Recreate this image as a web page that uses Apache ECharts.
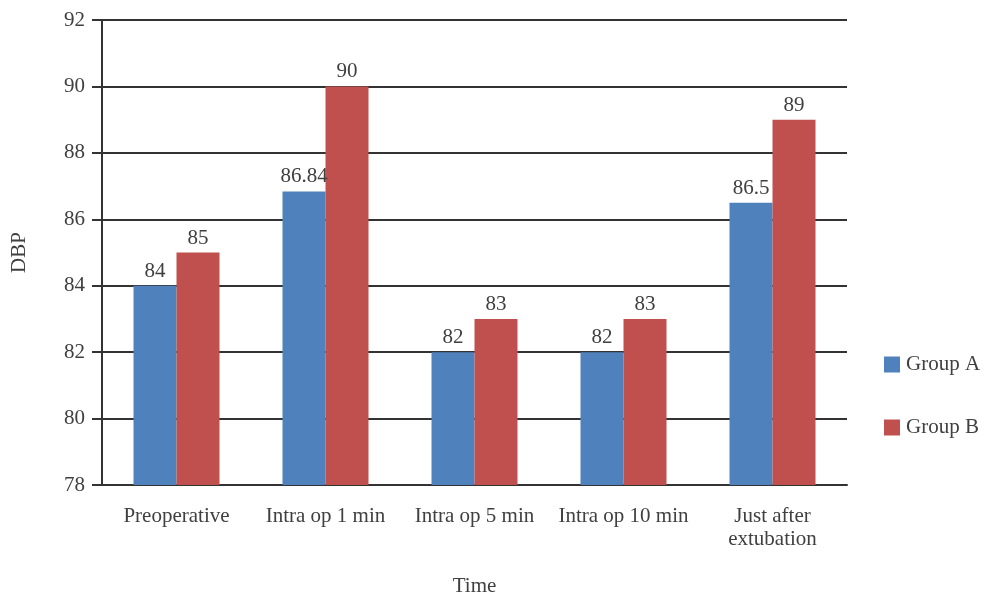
<!DOCTYPE html>
<html>
<head>
<meta charset="utf-8">
<script src="https://cdn.jsdelivr.net/npm/echarts@6/dist/echarts.min.js"></script>
<style>
  html, body { margin: 0; padding: 0; background: #fff; }
  #chart { width: 985px; height: 596px; }
</style>
</head>
<body>
<div id="chart"></div>
<script>
// Diastolic blood pressure by time point, two groups
const categories = ['Preoperative', 'Intra op 1 min', 'Intra op 5 min', 'Intra op 10 min', 'Just after\nextubation'];
const groupA = [84, 86.84, 82, 82, 86.5];
const groupB = [85, 90, 83, 83, 89];
const yTicks = { min: 78, max: 92, interval: 2 };

const FONT = 'Liberation Serif';
const TEXT = '#404040';
const SIZE = 21;

const chart = echarts.init(document.getElementById('chart'));

const labelStyle = {
  show: true,
  position: 'top',
  distance: 4,
  color: TEXT,
  fontFamily: FONT,
  fontSize: SIZE
};

chart.setOption({
  animation: false,
  textStyle: { fontFamily: FONT },
  grid: { left: 102, right: 138, top: 20, bottom: 111, outerBoundsMode: 'none', containLabel: false },
  legend: {
    orient: 'vertical',
    left: 879,
    top: 349,
    itemGap: 42,
    itemWidth: 16,
    itemHeight: 16,
    icon: 'rect',
    textStyle: { color: TEXT, fontFamily: FONT, fontSize: SIZE, padding: [0, 0, 0, 1] },
    data: ['Group A', 'Group B']
  },
  xAxis: {
    type: 'category',
    data: categories,
    name: 'Time',
    nameLocation: 'middle',
    nameGap: 91,
    nameTextStyle: { color: TEXT, fontFamily: FONT, fontSize: SIZE },
    axisLine: { show: true, lineStyle: { color: '#333', width: 2 } },
    axisTick: { show: false },
    axisLabel: { color: TEXT, fontFamily: FONT, fontSize: SIZE, margin: 20, lineHeight: 23, interval: 0 }
  },
  yAxis: {
    type: 'value',
    min: yTicks.min,
    max: yTicks.max,
    interval: yTicks.interval,
    name: 'DBP',
    nameLocation: 'middle',
    nameGap: 72,
    nameRotate: 90,
    nameTextStyle: { color: TEXT, fontFamily: FONT, fontSize: SIZE },
    axisLine: { show: true, lineStyle: { color: '#333', width: 2 } },
    axisTick: { show: true, length: 10, lineStyle: { color: '#333', width: 2 } },
    axisLabel: { color: TEXT, fontFamily: FONT, fontSize: SIZE, margin: 17 },
    splitLine: { show: true, lineStyle: { color: '#333', width: 2 } }
  },
  series: [
    {
      name: 'Group A',
      type: 'bar',
      data: groupA,
      barWidth: 43,
      barGap: '0%',
      itemStyle: { color: '#4F81BD' },
      label: labelStyle
    },
    {
      name: 'Group B',
      type: 'bar',
      data: groupB,
      barWidth: 43,
      itemStyle: { color: '#C0504D' },
      label: labelStyle
    }
  ]
});
</script>
</body>
</html>
